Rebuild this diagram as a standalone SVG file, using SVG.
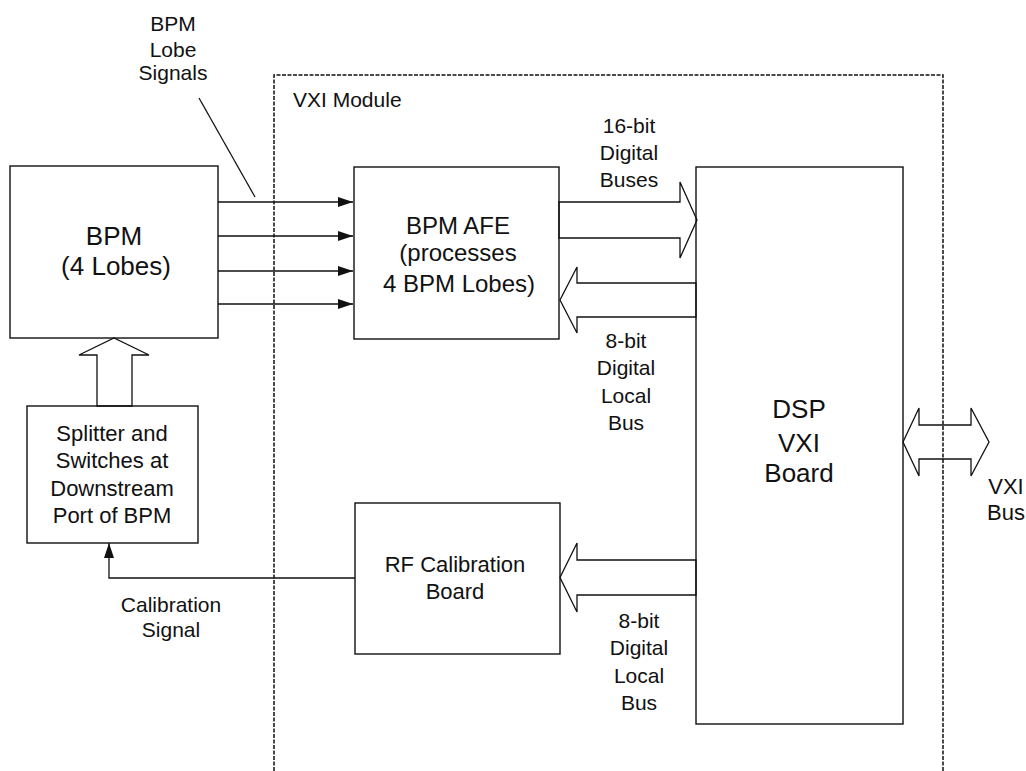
<svg xmlns="http://www.w3.org/2000/svg" width="1026" height="771" viewBox="0 0 1026 771">
<style>
.box{fill:none;stroke:#111;stroke-width:1.4}
.ln{fill:none;stroke:#111;stroke-width:1.3}
.hollow{fill:#fff;stroke:#111;stroke-width:1.3;stroke-linejoin:miter}
.dash{fill:none;stroke:#111;stroke-width:1.5;stroke-dasharray:4 1.5}
text{font-family:"Liberation Sans",Arial,sans-serif;fill:#111;text-anchor:middle}
.lbl{font-size:21px}
.big{font-size:26px}
.mid{font-size:24px}
.sm{font-size:22px}
</style>
<defs>
<marker id="ah" markerWidth="15" markerHeight="10" refX="15" refY="5" orient="auto" markerUnits="userSpaceOnUse">
<path d="M0,0 L15,5 L0,10 z" fill="#111"/>
</marker>
</defs>
<rect width="1026" height="771" fill="#fff"/>

<g id="vxi-module">
<path class="dash" d="M274,771 L274,75 L943,75 L943,771"/>
<text class="lbl" x="293" y="107" style="text-anchor:start">VXI Module</text>
</g>

<g id="connectors">
<line class="ln" x1="218" y1="202" x2="353" y2="202" marker-end="url(#ah)"/>
<line class="ln" x1="218" y1="236" x2="353" y2="236" marker-end="url(#ah)"/>
<line class="ln" x1="218" y1="271" x2="353" y2="271" marker-end="url(#ah)"/>
<line class="ln" x1="218" y1="304" x2="353" y2="304" marker-end="url(#ah)"/>
<line class="ln" x1="199" y1="98" x2="255" y2="197"/>
<polygon class="hollow" points="97,406 97,355 79,355 114,338 149,355 132,355 132,406"/>
<polygon class="hollow" points="559,202 680,202 680,182 697,220 680,258 680,238 559,238"/>
<polygon class="hollow" points="696,283 577,283 577,267 560,300 577,333 577,317 696,317"/>
<polygon class="hollow" points="696,560 577,560 577,543 560,577.5 577,612 577,595 696,595"/>
<polygon class="hollow" style="fill:none" points="903,442 919,408 919,425 971,425 971,408 989,442 971,476 971,459 919,459 919,476"/>
<polyline class="ln" points="355,578 109,578 109,543" marker-end="url(#ah)"/>
</g>

<g id="labels">
<text class="lbl" x="173" y="31">BPM</text>
<text class="lbl" x="173" y="57">Lobe</text>
<text class="lbl" x="173" y="80">Signals</text>
<text class="lbl" x="629" y="133">16-bit</text>
<text class="lbl" x="629" y="160">Digital</text>
<text class="lbl" x="629" y="187">Buses</text>
<text class="lbl" x="626" y="348">8-bit</text>
<text class="lbl" x="626" y="375">Digital</text>
<text class="lbl" x="626" y="403">Local</text>
<text class="lbl" x="626" y="430">Bus</text>
<text class="lbl" x="639" y="628">8-bit</text>
<text class="lbl" x="639" y="655">Digital</text>
<text class="lbl" x="639" y="683">Local</text>
<text class="lbl" x="639" y="710">Bus</text>
<text class="lbl" x="171" y="612">Calibration</text>
<text class="lbl" x="171" y="637">Signal</text>
<text class="sm" x="1006" y="494">VXI</text>
<text class="sm" x="1006" y="520">Bus</text>
</g>

<g id="bpm">
<rect class="box" x="10" y="166" width="208" height="172"/>
<text class="big" x="114" y="245">BPM</text>
<text class="big" x="116" y="275">(4 Lobes)</text>
</g>

<g id="splitter">
<rect class="box" x="27" y="406" width="171" height="137"/>
<text class="sm" x="112" y="441">Splitter and</text>
<text class="sm" x="112" y="468">Switches at</text>
<text class="sm" x="112" y="496">Downstream</text>
<text class="sm" x="112" y="523">Port of BPM</text>
</g>

<g id="bpm-afe">
<rect class="box" x="354" y="167" width="205" height="172"/>
<text class="mid" x="458" y="234">BPM AFE</text>
<text class="mid" x="458" y="261">(processes</text>
<text class="mid" x="459" y="292">4 BPM Lobes)</text>
</g>

<g id="dsp">
<rect class="box" x="696" y="167" width="207" height="557"/>
<text class="big" x="799" y="418">DSP</text>
<text class="big" x="799" y="452">VXI</text>
<text class="big" x="799" y="482">Board</text>
</g>

<g id="rf-cal">
<rect class="box" x="355" y="503" width="205" height="151"/>
<text class="sm" x="455" y="572">RF Calibration</text>
<text class="sm" x="455" y="599">Board</text>
</g>
</svg>
